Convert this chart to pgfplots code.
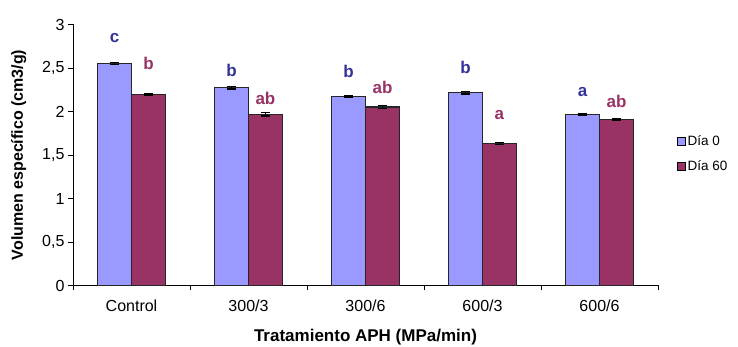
\documentclass[border=0pt]{standalone}
\usepackage{pgfplots}
\pgfplotsset{compat=1.18}
\usepackage{fontspec}
\setmainfont{Liberation Sans}
\definecolor{dzero}{HTML}{9999FF}
\definecolor{dsixty}{HTML}{993366}
\definecolor{lblue}{HTML}{333399}
\definecolor{lred}{HTML}{993366}
\begin{document}
\begin{tikzpicture}
\path[use as bounding box] (-73pt,-61.5pt) rectangle (665pt,285.5pt);
\begin{axis}[
  scale only axis,
  width=585pt, height=261pt,
  xmin=-0.5, xmax=4.5,
  ymin=0, ymax=3,
  axis lines=left,
  axis line style={-, black, line width=0.8pt},
  tick align=outside,
  major tick length=5pt,
  tick style={black, line width=0.8pt},
  xtick={-0.5,0.5,1.5,2.5,3.5,4.5},
  xticklabels={Control,300/3,300/6,600/3,600/6},
  x tick label as interval,
  ytick={0,0.5,1,1.5,2,2.5,3},
  yticklabels={0,{0,5},1,{1,5},2,{2,5},3},
  /pgf/number format/assume math mode=true,
  ticklabel style={font=\fontsize{16}{19}\selectfont},
  xticklabel style={yshift=-6pt},
  xlabel={\textbf{Tratamiento APH (MPa/min)}},
  ylabel={\textbf{Volumen específico (cm3/g)}},
  xlabel style={yshift=-11pt, font=\fontsize{17}{20}\selectfont},
  ylabel style={yshift=9pt, font=\fontsize{16}{19}\selectfont},
  legend style={at={(1.032,0.504)}, anchor=west, draw=none, fill=none,
    font=\fontsize{13.5}{16}\selectfont, row sep=9pt, inner sep=0pt,
    /tikz/every even column/.append style={column sep=0pt}},
  legend image code/.code={\draw[#1, draw=black, line width=0.8pt] (0pt,-4pt) rectangle (8pt,4pt);},
  legend cell align=left,
  clip=false,
]
\addplot[ybar, bar width=34pt, bar shift=0pt, fill=dzero, draw=black!85, line width=1.1pt,
  error bars/.cd, y dir=both, y explicit, error bar style={black, line width=1.6pt}, error mark options={rotate=90, mark size=4.5pt, line width=1.4pt}]
  coordinates {(-0.145,2.551) +- (0,0.01) (0.855,2.274) +- (0,0.015) (1.855,2.170) +- (0,0.01) (2.855,2.216) +- (0,0.015) (3.855,1.963) +- (0,0.01)};
\addlegendentry{Día 0}
\addplot[ybar, bar width=34pt, bar shift=0pt, fill=dsixty, draw=black!85, line width=1.1pt,
  error bars/.cd, y dir=both, y explicit, error bar style={black, line width=1.6pt}, error mark options={rotate=90, mark size=4.5pt, line width=1.4pt}]
  coordinates {(0.145,2.198) +- (0,0.01) (1.145,1.968) +- (0,0.02) (2.145,2.052) +- (0,0.015) (3.145,1.632) +- (0,0.01) (4.145,1.906) +- (0,0.01)};
\addlegendentry{Día 60}
\addplot[draw=none, mark=none, nodes near coords, point meta=explicit symbolic, forget plot,
  every node near coord/.append style={anchor=center, text=lblue, font=\fontsize{17}{20}\selectfont\bfseries}]
  table[meta=l] {
x y l
-0.145 2.841 c
0.855 2.471 b
1.855 2.46 b
2.855 2.511 b
3.855 2.224 a
};
\addplot[draw=none, mark=none, nodes near coords, point meta=explicit symbolic, forget plot,
  every node near coord/.append style={anchor=center, text=lred, font=\fontsize{17}{20}\selectfont\bfseries}]
  table[meta=l] {
x y l
0.145 2.557 b
1.145 2.155 ab
2.145 2.28 ab
3.145 1.956 a
4.145 2.113 ab
};
\end{axis}
\end{tikzpicture}
\end{document}
